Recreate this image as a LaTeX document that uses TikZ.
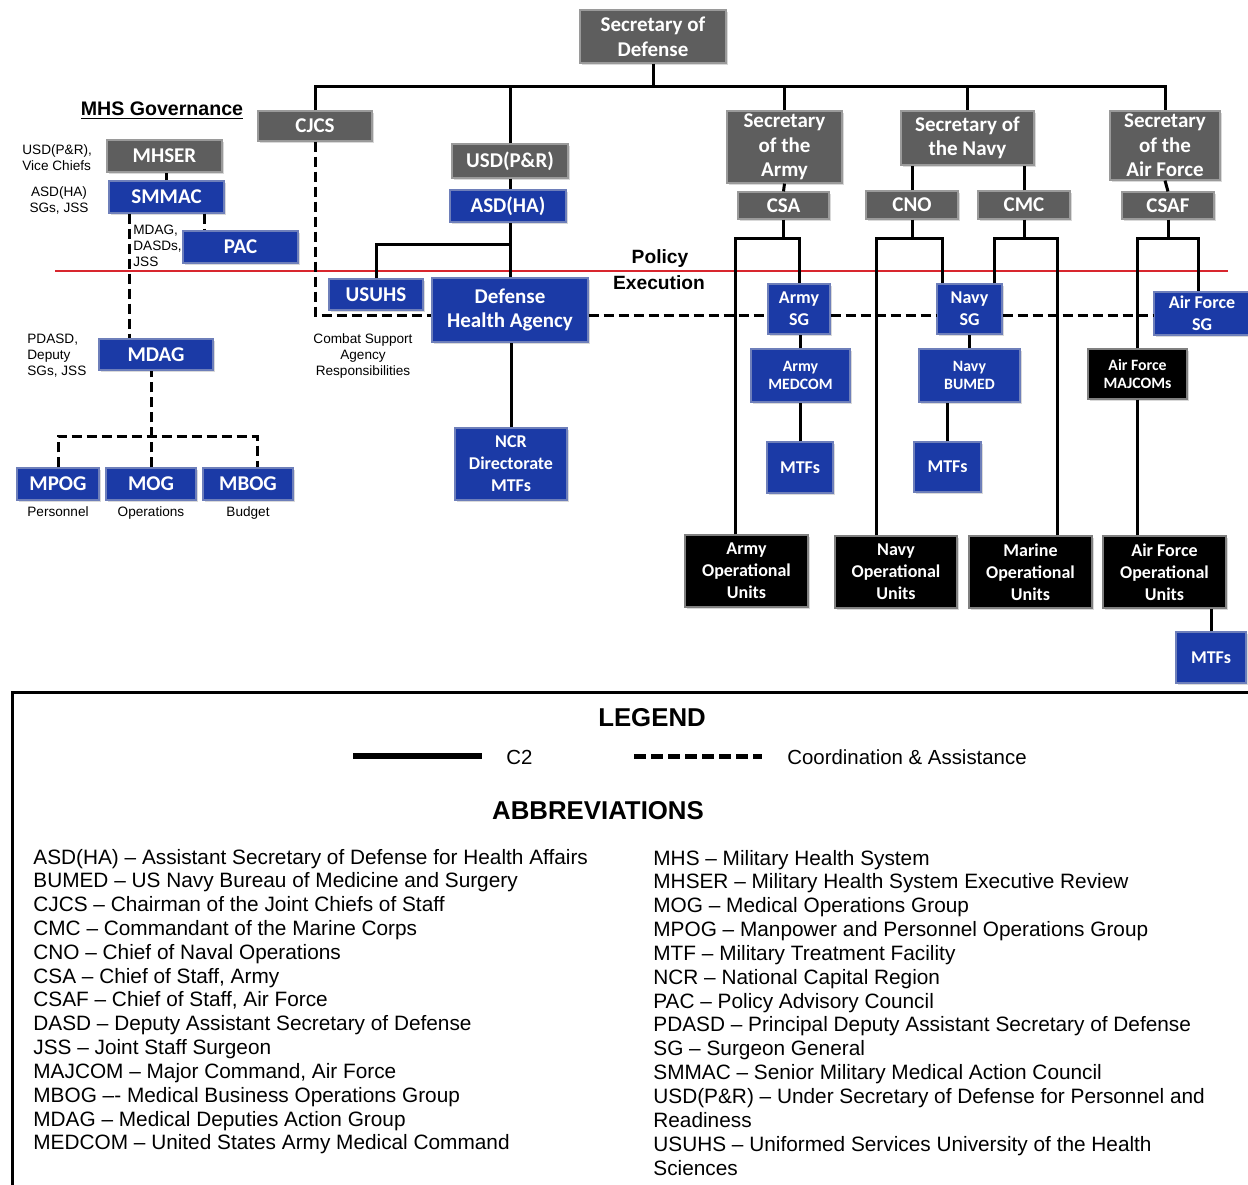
\documentclass[tikz,border=0pt]{standalone}
\usepackage{fontspec}
\setmainfont{Liberation Sans}
\newfontfamily\boxfont{Carlito}
\usetikzlibrary{shadows}
\definecolor{orggray}{HTML}{5E5E5E}
\definecolor{orggrayline}{HTML}{9A9A9A}
\definecolor{orgblue}{HTML}{1B3AA6}
\definecolor{orgblueline}{HTML}{6E7FBA}
\definecolor{polred}{HTML}{D8262E}
\tikzset{
  orgbox/.style={draw,line width=0.6pt,inner sep=1pt,align=center,text=white,
    font=\boxfont\bfseries\fontsize{10.5}{12.3}\selectfont,
    drop shadow={shadow xshift=1pt,shadow yshift=-1pt,opacity=0.3}},
  orgg/.style={orgbox,fill=orggray,draw=orggrayline},
  orgb/.style={orgbox,fill=orgblue,draw=orgblueline},
  orgk/.style={orgbox,fill=black,draw=gray},
  midtxt/.style={font=\boxfont\bfseries\fontsize{9}{11}\selectfont},
  smltxt/.style={font=\boxfont\bfseries\fontsize{7.9}{9}\selectfont},
  c2/.style={line width=1.5pt},
  coord/.style={line width=1.5pt,dash pattern=on 5pt off 2.5pt},
  sidenote/.style={inner sep=0pt,font=\fontsize{6.8}{8}\selectfont},
  head/.style={inner sep=0pt,font=\bfseries\fontsize{12.9}{14}\selectfont},
  abbr/.style={inner sep=0pt,anchor=base west,font=\fontsize{10.4}{12}\selectfont}
}
% box: style, name, x1, y1, x2, y2, text  (pixel corners)
\def\OB#1#2#3#4#5#6#7{\node[#1,minimum width={(#5-#3)*0.5pt},minimum height={(#6-#4)*0.5pt}] (#2) at ({(#3+#5)/2},{(#4+#6)/2}) {#7};}

\begin{document}
\begin{tikzpicture}[x=0.5pt,y=-0.5pt]
\useasboundingbox (0,0) rectangle (1248,1184);
\draw[polred,line width=1pt] (55,271) -- (1228,271);

\OB{orgg}{secdef}{580}{10}{726}{63}{Secretary of\\Defense}
\OB{orgg}{cjcs}{258}{111}{372}{141}{CJCS}
\OB{orgg}{mhser}{107}{140}{222}{172}{MHSER}
\OB{orgb}{smmac}{109}{181}{224}{213}{SMMAC}
\OB{orgb}{pac}{183}{231}{298}{263}{PAC}
\OB{orgb}{mdag}{99}{339}{213}{370}{MDAG}
\OB{orgb}{mpog}{17}{468}{99}{500}{MPOG}
\OB{orgb}{mog}{106}{468}{196}{500}{MOG}
\OB{orgb}{mbog}{203}{468}{293}{500}{MBOG}
\OB{orgg}{usdpr}{452}{144}{568}{178}{USD(P\&R)}
\OB{orgb}{asdha}{450}{190}{566}{222}{ASD(HA)}
\OB{orgb}{usuhs}{329}{279}{423}{310}{USUHS}
\OB{orgb}{dha}{432}{278}{588}{342}{Defense\\Health Agency}
\OB{orgb,midtxt}{ncr}{455}{428}{567}{500}{NCR\\Directorate\\MTFs}

\OB{orgg}{secarmy}{727}{111}{842}{183}{Secretary\\of the\\Army}
\OB{orgg}{csa}{738}{192}{829}{219}{CSA}
\OB{orgg}{secnavy}{901}{111}{1034}{165}{Secretary of\\the Navy}
\OB{orgg}{cno}{866}{191}{958}{219}{CNO}
\OB{orgg}{cmc}{978}{191}{1070}{219}{CMC}
\OB{orgg}{secaf}{1110}{111}{1220}{180}{Secretary\\of the\\Air Force}
\OB{orgg}{csaf}{1122}{192}{1214}{219}{CSAF}

\OB{orgb,midtxt}{armysg}{768}{284}{830}{334}{Army\\SG}
\OB{orgb,smltxt}{medcom}{751}{349}{850}{402}{Army\\MEDCOM}
\OB{orgb,midtxt}{armymtf}{767}{442}{833}{493}{MTFs}
\OB{orgb,midtxt}{navysg}{937}{284}{1002}{334}{Navy\\SG}
\OB{orgb,smltxt}{bumed}{919}{349}{1020}{402}{Navy\\BUMED}
\OB{orgb,midtxt}{navymtf}{914}{442}{981}{492}{MTFs}
\OB{orgb,midtxt}{afsg}{1154}{292}{1250}{335}{Air Force\\SG}
\OB{orgk,smltxt}{majcom}{1088}{349}{1187}{399}{Air Force\\MAJCOMs}
\OB{orgk,midtxt}{armyou}{685}{535}{808}{607}{Army\\Operational\\Units}
\OB{orgk,midtxt}{navyou}{835}{536}{957}{608}{Navy\\Operational\\Units}
\OB{orgk,midtxt}{marineou}{969}{536}{1092}{608}{Marine\\Operational\\Units}
\OB{orgk,midtxt}{afou}{1103}{536}{1226}{608}{Air Force\\Operational\\Units}
\OB{orgb,midtxt}{afmtf}{1176}{632}{1246}{683}{MTFs}

% side texts
\node[inner sep=0pt,font=\bfseries\fontsize{9.8}{11}\selectfont] (govtitle) at (162,111) {\underline{MHS Governance}};
\node[sidenote,anchor=west,align=left] (mhsernote) at (22,158) {USD(P\&R),\\Vice Chiefs};
\node[sidenote,align=center] (smmacnote) at (59,200) {ASD(HA)\\SGs, JSS};
\node[sidenote,anchor=west,align=left] (pacnote) at (133,246) {MDAG,\\DASDs,\\JSS};
\node[sidenote,anchor=west,align=left] (mdagnote) at (27,356) {PDASD,\\Deputy\\SGs, JSS};
\node[sidenote,align=center] (csanote) at (363,356) {Combat Support\\Agency\\Responsibilities};
\foreach \n/\t in {mpog/Personnel,mog/Operations,mbog/Budget}
  \node[sidenote,below=3pt] (\n note) at (\n.south) {\t};
\node[inner sep=0pt,font=\bfseries\fontsize{9.6}{11}\selectfont] (policy) at (660,259) {Policy};
\node[inner sep=0pt,font=\bfseries\fontsize{9.6}{11}\selectfont] (exec) at (659,283) {Execution};

% C2 lines
\coordinate (bar) at (0,86);
\coordinate (ubr) at (0,244);
\coordinate (sbr) at (0,238);
\draw[c2] (secdef.south) -- (secdef.south |- bar);
\draw[c2] (cjcs.north) |- (secaf.north |- bar) -- (secaf.north);
\foreach \n in {usdpr,secarmy,secnavy} \draw[c2] (\n.north) -- (\n.north |- bar);
\draw[c2] (smmac.north) -- (smmac.north |- mhser.south);
\draw[c2] (usdpr.south) -- (usdpr.south |- asdha.north);
\draw[c2] (dha.north) -- (dha.north |- asdha.south);
\draw[c2] (usuhs.north) |- (dha.north |- ubr);
\draw[c2] (ncr.north) -- (ncr.north |- dha.south);
\draw[c2] (secarmy.south) -- (csa.north);
\draw[c2] (cno.north) -- (cno.north |- secnavy.south);
\draw[c2] (cmc.north) -- (cmc.north |- secnavy.south);
\draw[c2] (secaf.south) -- (csaf.north);
\foreach \n in {csa,cno,cmc,csaf} \draw[c2] (\n.south) -- (\n.south |- sbr);

\coordinate (ax) at (735,0);
\coordinate (nl) at (876,0);
\coordinate (nr) at (942,0);
\coordinate (ml) at (994,0);
\coordinate (mr) at (1057,0);
\coordinate (fr) at (1198,0);
\draw[c2] (armyou.north -| ax) |- (armysg.north |- sbr) -- (armysg.north);
\draw[c2] (medcom.north) -- (medcom.north |- armysg.south);
\draw[c2] (armymtf.north) -- (armymtf.north |- medcom.south);
\draw[c2] (navyou.north -| nl) |- (nr |- sbr) -- (navysg.north -| nr);
\draw[c2] (navysg.north -| ml) |- (mr |- sbr) -- (marineou.north -| mr);
\draw[c2] (bumed.north) -- (bumed.north |- navysg.south);
\draw[c2] (navymtf.north) -- (navymtf.north |- bumed.south);
\draw[c2] (majcom.north) |- (fr |- sbr) -- (afsg.north -| fr);
\draw[c2] (majcom.south) -- (afou.north -| majcom.south);
\draw[c2] (afmtf.north) -- (afmtf.north |- afou.south);

% coordination lines
\coordinate (cas) at (0,315);
\coordinate (pacx) at (204,0);
\coordinate (mdx) at (129,0);
\coordinate (gbr) at (0,436);
\coordinate (mbx) at (257,0);
\draw[coord] (smmac.south -| pacx) -- (pac.north -| pacx);
\draw[coord] (smmac.south -| mdx) -- (mdag.north -| mdx);
\draw[coord] (mog.north) -- (mog.north |- mdag.south);
\draw[coord] (mpog.north) |- (mbx |- gbr) -- (mbog.north -| mbx);
\draw[coord] (cjcs.south) |- (dha.west |- cas);
\draw[coord] (dha.east |- cas) -- (armysg.west |- cas);
\draw[coord] (armysg.east |- cas) -- (navysg.west |- cas);
\draw[coord] (navysg.east |- cas) -- (afsg.west |- cas);

% legend
\draw[line width=1.5pt] (1252,692) -- (12,692) -- (12,1188);
\node[head] (legend) at (652,718) {LEGEND};
\coordinate (c2a) at (353,756);
\coordinate (c2b) at (482,756);
\coordinate (caa) at (634,756);
\coordinate (cab) at (762,756);
\draw[line width=3pt] (c2a) -- (c2b);
\draw[line width=2.5pt,dash pattern=on 6pt off 2.5pt] (caa) -- (cab);
\node[inner sep=0pt,anchor=west,font=\fontsize{10.2}{12}\selectfont] (c2txt) at (506,757) {C2};
\node[inner sep=0pt,anchor=west,font=\fontsize{10.2}{12}\selectfont] (catxt) at (787,757) {Coordination \& Assistance};
\node[head] (abbrev) at (598,811) {ABBREVIATIONS};

\foreach \t [count=\i from 0] in {ASD(HA) – Assistant Secretary of Defense for Health Affairs,
  BUMED – US Navy Bureau of Medicine and Surgery,
  CJCS – Chairman of the Joint Chiefs of Staff,
  CMC – Commandant of the Marine Corps,
  CNO – Chief of Naval Operations,
  {CSA – Chief of Staff, Army},
  {CSAF – Chief of Staff, Air Force},
  DASD – Deputy Assistant Secretary of Defense,
  JSS – Joint Staff Surgeon,
  {MAJCOM – Major Command, Air Force},
  MBOG –- Medical Business Operations Group,
  MDAG – Medical Deputies Action Group,
  MEDCOM – United States Army Medical Command}
  \node[abbr] (abl\i) at (33,{864+23.83*\i}) {\t};
\foreach \t [count=\i from 0] in {MHS – Military Health System,
  MHSER – Military Health System Executive Review,
  MOG – Medical Operations Group,
  MPOG – Manpower and Personnel Operations Group,
  MTF – Military Treatment Facility,
  NCR – National Capital Region,
  PAC – Policy Advisory Council,
  PDASD – Principal Deputy Assistant Secretary of Defense,
  SG – Surgeon General,
  SMMAC – Senior Military Medical Action Council,
  USD(P\&R) – Under Secretary of Defense for Personnel and,
  Readiness,
  USUHS – Uniformed Services University of the Health,
  Sciences}
  \node[abbr] (abr\i) at (653,{865+23.85*\i}) {\t};
\end{tikzpicture}
\end{document}
